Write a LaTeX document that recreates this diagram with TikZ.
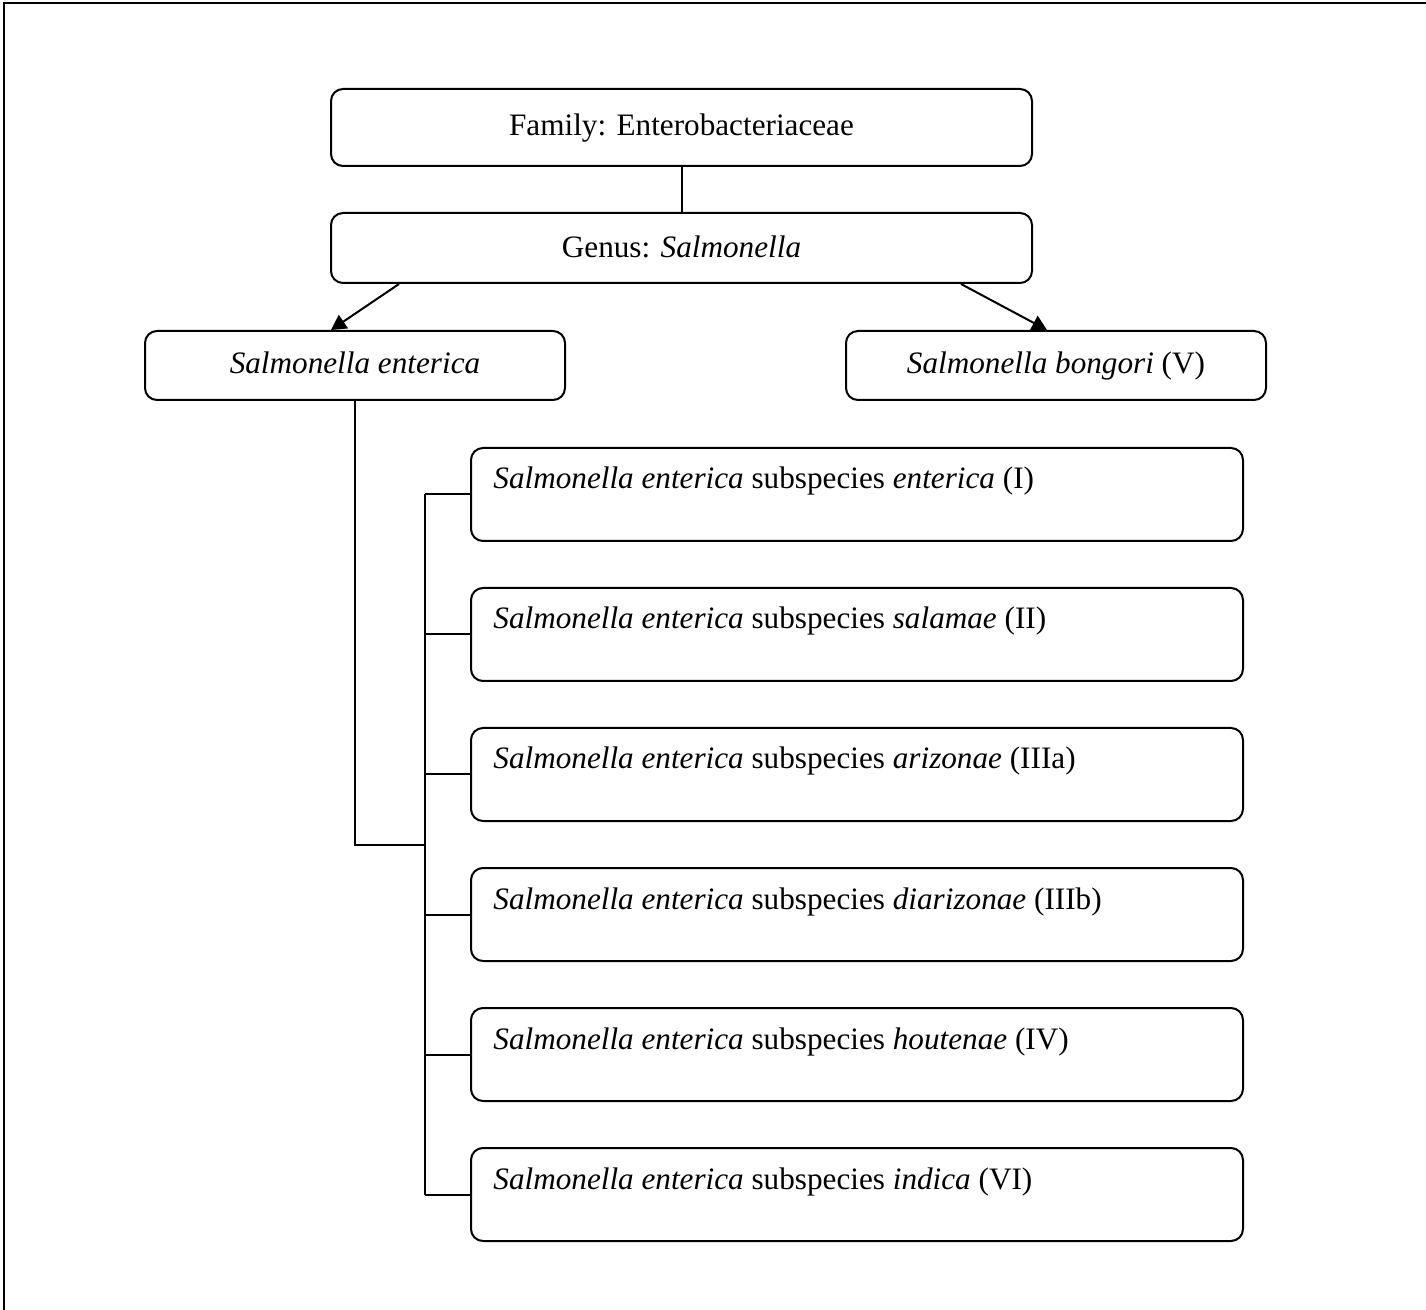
\documentclass[tikz,border=0pt]{standalone}
\usepackage{fontspec}
\setmainfont{Liberation Serif}
\usetikzlibrary{arrows.meta}
\tikzset{
  box/.style={draw, rounded corners=6pt, line width=1pt, inner sep=0pt, text height=11pt, text depth=3pt, font=\fontsize{15.6}{18.7}\selectfont},
  subbox/.style={box, minimum width=386pt, minimum height=46.5pt},
  lbl/.style={inner sep=0pt, anchor=base west, font=\fontsize{15.6}{18.7}\selectfont},
  conn/.style={line width=1pt},
  arr/.style={line width=1pt, -{Triangle[length=7.5pt,width=8pt]}},
}
\begin{document}
\begin{tikzpicture}[x=0.5pt, y=-0.5pt]
\useasboundingbox (0,0) rectangle (1426,1310);
\draw[line width=1.2pt] (4,1312) -- (4,3) -- (1428,3);

\node[box, minimum width=350.5pt, minimum height=38.5pt] (fam) at (681.5,127.5) {Family: Enterobacteriaceae};
\node[box, text depth=1pt, minimum width=350.5pt, minimum height=35pt] (gen) at (681.5,248) {Genus: \textit{Salmonella}};
\node[box, minimum width=210pt, minimum height=34.5pt] (ent) at (355,365.5) {\textit{Salmonella enterica}};
\node[box, minimum width=210pt, minimum height=34.5pt] (bon) at (1056,365.5) {\textit{Salmonella bongori} (V)};

\node[subbox] (s1) at (857,494.5) {};
\node[subbox] (s2) at (857,634.5) {};
\node[subbox] (s3) at (857,774.5) {};
\node[subbox] (s4) at (857,914.5) {};
\node[subbox] (s5) at (857,1054.5) {};
\node[subbox] (s6) at (857,1194.5) {};

\node[lbl] (t1) at ([xshift=11.5pt,yshift=-21pt]s1.north west) {\textit{Salmonella enterica} subspecies \textit{enterica} (I)};
\node[lbl] (t2) at ([xshift=11.5pt,yshift=-21pt]s2.north west) {\textit{Salmonella enterica} subspecies \textit{salamae} (II)};
\node[lbl] (t3) at ([xshift=11.5pt,yshift=-21pt]s3.north west) {\textit{Salmonella enterica} subspecies \textit{arizonae} (IIIa)};
\node[lbl] (t4) at ([xshift=11.5pt,yshift=-21pt]s4.north west) {\textit{Salmonella enterica} subspecies \textit{diarizonae} (IIIb)};
\node[lbl] (t5) at ([xshift=11.5pt,yshift=-21pt]s5.north west) {\textit{Salmonella enterica} subspecies \textit{houtenae} (IV)};
\node[lbl] (t6) at ([xshift=11.5pt,yshift=-21pt]s6.north west) {\textit{Salmonella enterica} subspecies \textit{indica} (VI)};

\draw[conn] (fam.south) -- (gen.north);
\draw[arr] ([xshift=34.5pt]gen.south west) -- ([xshift=93.5pt]ent.north west);
\draw[arr] ([xshift=315.5pt]gen.south west) -- ([xshift=101pt]bon.north west);

\coordinate (j) at (425,845);
\draw[conn] (ent.south) |- (j);
\draw[conn] (s1.west -| j) -- (s6.west -| j);
\foreach \n in {1,...,6} {
  \draw[conn] (s\n.west -| j) -- (s\n.west);
}
\end{tikzpicture}
\end{document}
